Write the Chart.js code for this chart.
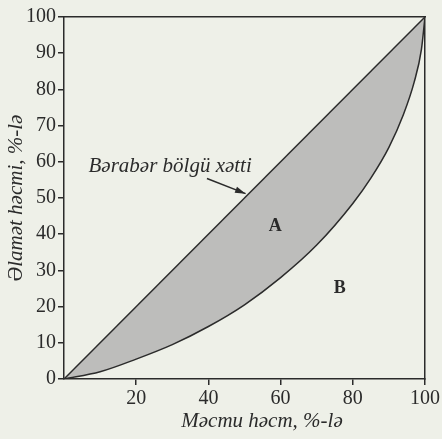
<!DOCTYPE html>
<html>
<head>
<meta charset="utf-8">
<script src="https://cdn.jsdelivr.net/npm/chart.js@4/dist/chart.umd.min.js"></script>
<style>
  html, body { margin: 0; padding: 0; background: #eef0e8; }
  canvas { display: block; }
</style>
</head>
<body>
<canvas id="lorenzChart" width="442" height="439"></canvas>
<script>
// data
var shareX = [0, 10, 20, 30, 40, 50, 60, 70, 80, 85, 90, 94, 97, 99, 100];
var lorenzY = [0, 2, 5.5, 9.5, 14.5, 20.5, 28, 37, 48.5, 55.5, 64, 73, 82, 91, 100];
var equalX = [0, 100];
var equalY = [0, 100];
var xTicks = [20, 40, 60, 80, 100];
var yTicks = [0, 10, 20, 30, 40, 50, 60, 70, 80, 90, 100];

var ink = '#2b2b2b';
var serif = '"Liberation Serif", "DejaVu Serif", serif';

function toPoints(xs, ys) {
    return xs.map(function (x, i) { return { x: x, y: ys[i] }; });
}

// background + text notes drawn on top of the chart
var notes = {
    id: 'notes',
    beforeDraw: function (chart) {
        var ctx = chart.ctx;
        ctx.save();
        ctx.fillStyle = '#eef0e8';
        ctx.fillRect(0, 0, chart.width, chart.height);
        ctx.restore();
    },
    afterDatasetsDraw: function (chart) {
        var ctx = chart.ctx;
        var sx = chart.scales.x, sy = chart.scales.y;
        ctx.save();
        ctx.fillStyle = ink;
        ctx.textAlign = 'center';
        ctx.textBaseline = 'middle';

        ctx.font = 'italic 21px ' + serif;
        ctx.fillText('Bərabər bölgü xətti', sx.getPixelForValue(29.4), sy.getPixelForValue(58.8));

        // arrow
        var x1 = sx.getPixelForValue(39.6), y1 = sy.getPixelForValue(55.4);
        var x2 = sx.getPixelForValue(50.3), y2 = sy.getPixelForValue(51.2);
        ctx.strokeStyle = ink;
        ctx.lineWidth = 1.5;
        ctx.beginPath();
        ctx.moveTo(x1, y1);
        ctx.lineTo(x2, y2);
        ctx.stroke();
        var a = Math.atan2(y2 - y1, x2 - x1);
        ctx.beginPath();
        ctx.moveTo(x2, y2);
        ctx.lineTo(x2 - 11 * Math.cos(a - 0.3), y2 - 11 * Math.sin(a - 0.3));
        ctx.lineTo(x2 - 11 * Math.cos(a + 0.3), y2 - 11 * Math.sin(a + 0.3));
        ctx.closePath();
        ctx.fill();

        ctx.font = 'bold 18px ' + serif;
        ctx.fillText('A', sx.getPixelForValue(58.5), sy.getPixelForValue(42.3));
        ctx.fillText('B', sx.getPixelForValue(76.4), sy.getPixelForValue(25.1));

        // x axis title
        ctx.font = 'italic 21px ' + serif;
        ctx.fillText('Məcmu həcm, %-lə', 262, 421);
        ctx.restore();
    }
};

var ctx = document.getElementById('lorenzChart').getContext('2d');
var chart = new Chart(ctx, {
    type: 'line',
    data: {
        datasets: [{
            label: 'Bərabər bölgü xətti',
            data: toPoints(equalX, equalY),
            borderColor: ink,
            borderWidth: 1.5,
            pointRadius: 0,
            fill: false
        }, {
            label: 'Lorenz',
            data: toPoints(shareX, lorenzY),
            borderColor: ink,
            borderWidth: 1.5,
            pointRadius: 0,
            cubicInterpolationMode: 'monotone',
            backgroundColor: '#bdbdbb',
            fill: '-1'
        }]
    },
    options: {
        responsive: false,
        animation: false,
        layout: { padding: 0 },
        plugins: {
            legend: { display: false },
            tooltip: { enabled: false }
        },
        scales: {
            x: {
                type: 'linear',
                min: 0,
                max: 100,
                afterFit: function (s) { s.height = 60; },
                afterBuildTicks: function (s) { s.ticks = xTicks.map(function (v) { return { value: v }; }); },
                grid: { drawOnChartArea: false, tickLength: 6, color: ink, lineWidth: 1.5 },
                border: { color: ink, width: 1.5 },
                ticks: { color: ink, padding: 2, font: { family: serif, size: 20 } }
            },
            y: {
                min: 0,
                max: 100,
                afterFit: function (s) { s.width = 64; },
                afterBuildTicks: function (s) { s.ticks = yTicks.map(function (v) { return { value: v }; }); },
                grid: { drawOnChartArea: false, tickLength: 6, color: ink, lineWidth: 1.5 },
                border: { color: ink, width: 1.5 },
                ticks: { color: ink, padding: 2, font: { family: serif, size: 20 } },
                title: {
                    display: true,
                    text: 'Əlamət həcmi, %-lə',
                    color: ink,
                    padding: { top: 4, bottom: 0 },
                    font: { family: serif, size: 21, style: 'italic' }
                }
            },
            x2: {
                type: 'linear',
                position: 'top',
                afterFit: function (s) { s.height = 17; },
                grid: { display: false },
                border: { color: ink, width: 1.5 },
                ticks: { display: false }
            },
            y2: {
                position: 'right',
                afterFit: function (s) { s.width = 13; },
                grid: { display: false },
                border: { color: ink, width: 1.5 },
                ticks: { display: false }
            }
        }
    },
    plugins: [notes]
});
</script>
</body>
</html>
